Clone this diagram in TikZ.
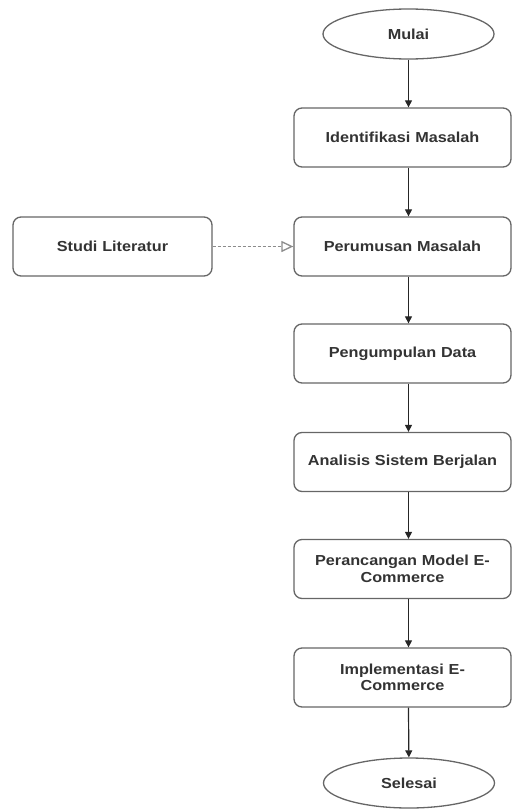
\documentclass[tikz,border=0pt]{standalone}
\usepackage{fontspec}
\setmainfont[FakeStretch=1.12]{Liberation Sans}
\usetikzlibrary{arrows.meta,shapes.geometric}
\begin{document}
\begin{tikzpicture}[x=1pt,y=-1pt,
  every node/.style={font=\bfseries\fontsize{14.5}{16.5}\selectfont, text=black!80, align=center},
  procbox/.style={draw=black!60, line width=1.3pt, rounded corners=8pt, minimum width=217pt, minimum height=59pt, inner sep=2pt, text width=205pt},
  termin/.style={draw=black!60, line width=1.3pt, ellipse, minimum width=171pt, minimum height=50pt, inner sep=0pt},
  flow/.style={draw=black!85, line width=1.2pt, -{Triangle[length=7pt,width=7pt]}},
  ref/.style={draw=black!45, line width=1.1pt, dash pattern=on 3pt off 2pt, -{Triangle[open,length=12pt,width=11pt,line width=1.3pt]}}]
\useasboundingbox (0,0) rectangle (513,811);
\node[termin] (mulai) at (408.5,34) {Mulai};
\node[procbox] (id) at (402.5,137.5) {Identifikasi Masalah};
\node[procbox] (per) at (402.5,246.5) {Perumusan Masalah};
\node[procbox, minimum width=199pt, text width=190pt] (studi) at (112.5,246.5) {Studi Literatur};
\node[procbox] (peng) at (402.5,353.5) {Pengumpulan Data};
\node[procbox] (ana) at (402.5,462) {Analisis Sistem Berjalan};
\node[procbox] (peran) at (402.5,569) {Perancangan Model E-\\Commerce};
\node[procbox] (impl) at (402.5,677.5) {Implementasi E-\\Commerce};
\node[termin] (sel) at (409,783) {Selesai};
\draw[flow] (mulai) -- (mulai |- id.north);
\draw[flow] (id.south -| mulai) -- (per.north -| mulai);
\draw[flow] (per.south -| mulai) -- (peng.north -| mulai);
\draw[flow] (peng.south -| mulai) -- (ana.north -| mulai);
\draw[flow] (ana.south -| mulai) -- (peran.north -| mulai);
\draw[flow] (peran.south -| mulai) -- (impl.north -| mulai);
\draw[flow] (impl.south -| mulai) -- (sel);
\draw[ref] (studi) -- (per);
\end{tikzpicture}
\end{document}
